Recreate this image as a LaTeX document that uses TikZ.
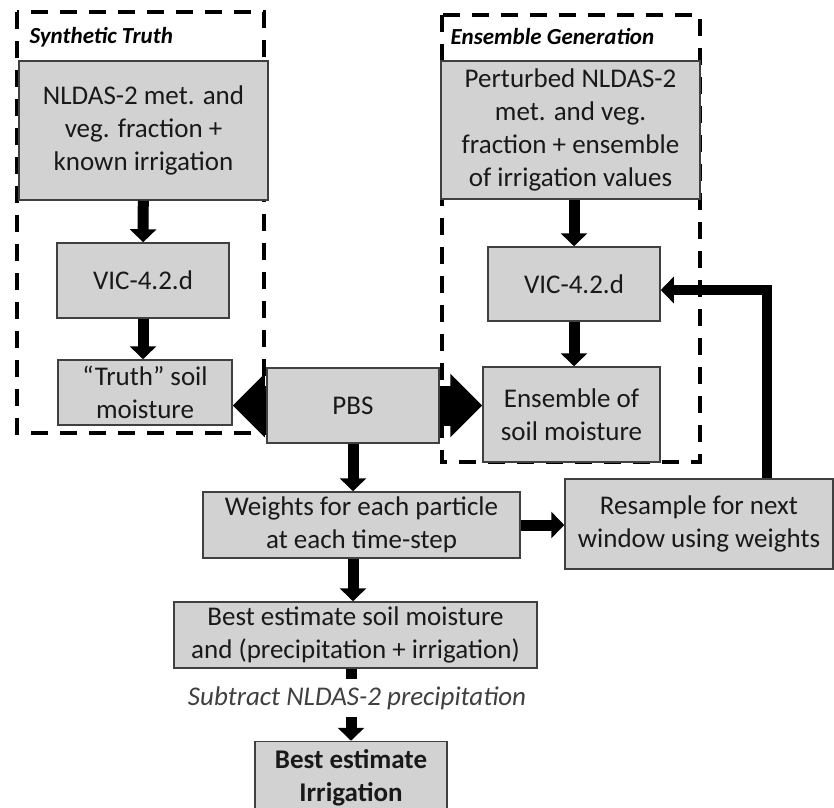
\documentclass[tikz,border=0pt]{standalone}
\usepackage{fontspec}
\setmainfont{Carlito}
\usetikzlibrary{arrows.meta}
\definecolor{boxgray}{RGB}{210,210,210}
\definecolor{boxline}{RGB}{64,64,64}
\definecolor{inkgray}{RGB}{25,25,25}
\definecolor{notegray}{RGB}{64,64,64}

\begin{document}
\begin{tikzpicture}[x=1pt,y=-1pt]
\clip (0,0) rectangle (834,807);
\fill[white] (0,0) rectangle (834,807);

%dashed frames go first so that the boxes sit on top of them
\begin{scope}[draw=black,line width=4pt,dash pattern=on 17pt off 12pt]
    \draw (17,12) rectangle (264,433);
    \draw (442,15) rectangle (700,462);
\end{scope}

%frame titles
\begin{scope}[every node/.style={anchor=west,text=black,font=\bfseries\itshape\fontsize{23}{26}\selectfont}]
    \node (synlabel) at (26,37) {Synthetic Truth};
    \node (enslabel) at (447,37) {Ensemble Generation};
\end{scope}

%all the grey boxes, placed by their centres
\begin{scope}[every node/.style={rectangle,draw=boxline,fill=boxgray,line width=1.5pt,
              align=center,inner sep=0pt,text=inkgray,font=\fontsize{27}{33}\selectfont}]
    \node[minimum width=249,minimum height=139] (nl) at (143.5,130.5) {NLDAS-2 met. and\\veg. fraction +\\known irrigation};
    \node[minimum width=172,minimum height=75] (vicA) at (143,280.5) {VIC-4.2.d};
    \node[minimum width=174,minimum height=65] (truth) at (145,392.5) {“Truth” soil\\moisture};
    \node[minimum width=172,minimum height=75] (pbs) at (353,405.5) {PBS};
    \node[minimum width=259,minimum height=138] (pert) at (570.5,130) {Perturbed NLDAS-2\\met. and veg.\\fraction + ensemble\\of irrigation values};
    \node[minimum width=172,minimum height=74] (vicB) at (574,284) {VIC-4.2.d};
    \node[minimum width=177,minimum height=95] (ens) at (571.5,414.5) {Ensemble of\\soil moisture};
    \node[minimum width=317,minimum height=66] (wts) at (361.5,525) {Weights for each particle\\at each time-step};
    \node[minimum width=268,minimum height=90] (res) at (699,524) {Resample for next\\window using weights};
    \node[minimum width=363,minimum height=66] (best) at (355.5,635) {Best estimate soil moisture\\and (precipitation + irrigation)};
    \node[minimum width=192,minimum height=73,font=\bfseries\fontsize{27}{33}\selectfont] (irr) at (351,778) {Best estimate\\Irrigation};
\end{scope}

%the black down and side arrows
\begin{scope}[>={Triangle[length=13pt,width=26pt]},
              every edge/.style={draw=black,line width=11pt}]
    \path [->] (nl) edge (vicA);
    \path [->] (vicA.south) edge (vicA.south |- truth.north);
    \path [->] (vicB.north |- pert.south) edge (vicB.north);
    \path [->] (vicB.south) edge (vicB.south |- ens.north);
    \path [->] (pbs.south) edge (pbs.south |- wts.north);
    \path [->] (pbs.south |- wts.south) edge (pbs.south |- best.north);
    \path [->] (wts.east) edge (wts.east -| res.west);
    \path [->] (best.south -| irr.north) edge (irr.north);
\end{scope}

%resample goes back into the second model run
\coordinate (up) at (767,290);
\draw [line width=10pt,-{Triangle[length=13pt,width=26pt]}] (res.north -| up) |- (vicB.east |- up);

%the two fat arrows out of PBS
\begin{scope}[>={Triangle[length=32pt,width=62pt]},
              every edge/.style={draw=black,line width=40pt}]
    \path [->] (pbs.west) edge (pbs.west -| truth.east);
    \path [->] (pbs.east) edge (pbs.east -| ens.west);
\end{scope}

%note over the last arrow
\node[fill=white,inner xsep=4pt,inner ysep=7pt,text=notegray,font=\itshape\fontsize{27}{30}\selectfont] (sub) at (357,698) {Subtract NLDAS-2 precipitation};
\end{tikzpicture}
\end{document}
